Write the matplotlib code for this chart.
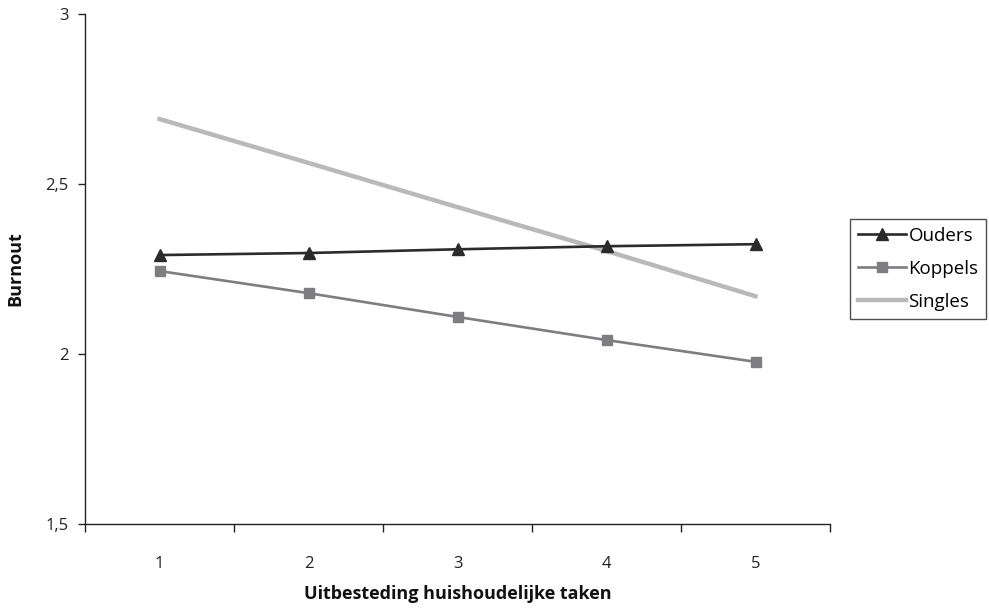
import matplotlib
matplotlib.use("Agg")
import matplotlib.pyplot as plt
from matplotlib.ticker import FixedLocator, NullFormatter

plt.rcParams['font.family'] = ['Open Sans', 'DejaVu Sans']

categories = ["1", "2", "3", "4", "5"]
ouders = [2.291, 2.297, 2.308, 2.317, 2.323]
koppels = [2.244, 2.179, 2.109, 2.041, 1.977]
singles = [2.691, 2.562, 2.432, 2.303, 2.170]
yticks = [1.5, 2.0, 2.5, 3.0]
ytick_labels = ["1,5", "2", "2,5", "3"]

fig = plt.figure(figsize=(9.89, 6.09), dpi=100)
ax = fig.add_axes([85/989, 1 - 524/609, (830-85)/989, (524-14)/609])

x = list(range(1, len(categories) + 1))
ax.plot(x, ouders, color='#2b2b2b', lw=1.9, marker='^', ms=8, label='Ouders', zorder=3)
ax.plot(x, koppels, color='#7d7d82', lw=1.9, marker='s', ms=6.5, label='Koppels', zorder=2)
ax.plot(x, singles, color='#b9b9b9', lw=3.2, label='Singles', zorder=1)

ax.set_xlim(0.5, len(categories) + 0.5)
ax.set_ylim(1.5, 3.0)
ax.set_yticks(yticks)
ax.set_yticklabels(ytick_labels)
ax.xaxis.set_major_locator(FixedLocator([i + 0.5 for i in range(0, len(categories) + 1)]))
ax.xaxis.set_major_formatter(NullFormatter())
ax.xaxis.set_minor_locator(FixedLocator(x))
ax.set_xticklabels(categories, minor=True)
ax.tick_params(axis='x', which='minor', length=0, pad=23, labelsize=12, colors='#222222')
ax.tick_params(axis='x', which='major', length=6, width=1, direction='out', color='#222222')
ax.tick_params(axis='y', length=5, width=1, direction='out', pad=7, labelsize=12, colors='#222222')

for s in ['top', 'right']:
    ax.spines[s].set_visible(False)
for s in ['left', 'bottom']:
    ax.spines[s].set_color('#222222')
    ax.spines[s].set_linewidth(1)

ax.set_xlabel('Uitbesteding huishoudelijke taken', fontsize=13, fontweight='bold', color='#111111')
ax.set_ylabel('Burnout', fontsize=13, fontweight='bold', color='#111111')
ax.xaxis.set_label_coords(0.5, (524 - 594) / 510, transform=ax.transAxes)
ax.yaxis.set_label_coords((15 - 85) / 745, (524 - 269) / 510, transform=ax.transAxes)
ax.xaxis.label.set_va('center')
ax.yaxis.label.set_va('center')

leg = ax.legend(loc='center left', bbox_to_anchor=(850/989, 1 - 269/609), bbox_transform=fig.transFigure,
                frameon=True, fancybox=False, edgecolor='#222222', fontsize=13.5,
                handlelength=2.55, handletextpad=0.15, borderpad=0.42, labelspacing=0.8, borderaxespad=0)
leg.get_frame().set_linewidth(1)

fig.savefig('out.png', dpi=100)
